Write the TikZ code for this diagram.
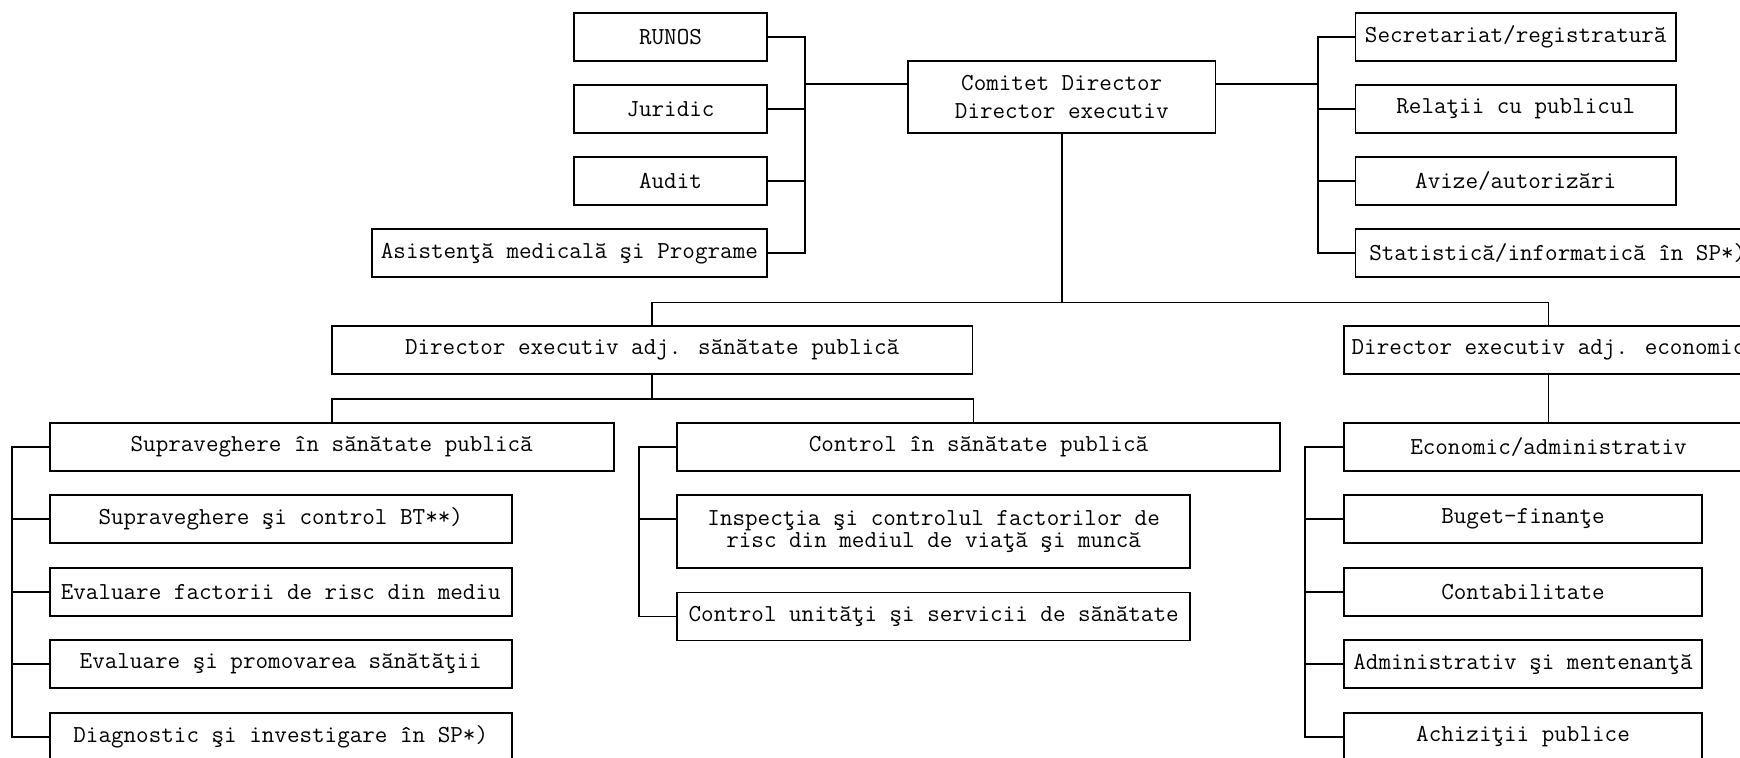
\documentclass[tikz,border=0pt]{standalone}
\usepackage{fontspec}
\usetikzlibrary{calc}

\begin{document}
\begin{tikzpicture} [x=0.5pt,y=-0.5pt,{dept/.style={rectangle,draw=black,line width=0.9pt,inner sep=0pt,minimum height=24pt,font=\ttfamily\fontsize{12.2}{13}\selectfont}},{link/.style={draw=black,line width=0.9pt}}]
	\useasboundingbox (0,0) rectangle (1740,758);
	\clip (0,0) rectangle (1740,758);
	%%top of chart
	\node [dept,minimum width=153.75pt,minimum height=36pt,align=center,font=\ttfamily\fontsize{12.2}{13.8}\selectfont] (comitet) at (1061.75,96.7) {Comitet Director\\Director executiv};
	%%staff on the left
	\node [dept,minimum width=96.5pt] (runos) at (670.5,37) {RUNOS};
	\node [dept,minimum width=96.5pt] (juridic) at (670.5,109.1) {Juridic};
	\node [dept,minimum width=96.5pt] (audit) at (670.5,181.2) {Audit};
	\node [dept,minimum width=197.6pt] (asist) at (569.4,253.3) {Asistenţă medicală şi Programe};
	%%staff on the right
	\node [dept,minimum width=160.25pt] (secret) at (1515.75,37) {Secretariat/registratură};
	\node [dept,minimum width=160.25pt] (relatii) at (1515.75,109.1) {Relaţii cu publicul};
	\node [dept,minimum width=160.25pt] (avize) at (1515.75,181.2) {Avize/autorizări};
	\node [dept,minimum width=202.25pt] (statist) at (1557.75,253.3) {Statistică/informatică în SP*)};
	%%deputy directors
	\node [dept,minimum width=320.35pt] (dirsp) at (652.15,350.2) {Director executiv adj. sănătate publică};
	\node [dept,minimum width=204.5pt] (direc) at (1548.5,350.2) {Director executiv adj. economic};
	%%public health branch
	\node [dept,minimum width=281.9pt] (sup) at (331.7,446.7) {Supraveghere în sănătate publică};
	\node [dept,minimum width=230.95pt] (supbt) at (280.75,519.2) {Supraveghere şi control BT**)};
	\node [dept,minimum width=230.95pt] (evalrisc) at (280.75,591.7) {Evaluare factorii de risc din mediu};
	\node [dept,minimum width=230.95pt] (evalprom) at (280.75,664.2) {Evaluare şi promovarea sănătăţii};
	\node [dept,minimum width=230.95pt] (diag) at (280.75,736.7) {Diagnostic şi investigare în SP*)};
	\node [dept,minimum width=301.5pt] (ctrl) at (978.5,446.7) {Control în sănătate publică};
	\node [dept,minimum width=256.65pt,minimum height=36.65pt,align=center,font=\ttfamily\fontsize{12.2}{11.2}\selectfont] (insp) at (933.65,531.7) {Inspecţia şi controlul factorilor de\\risc din mediul de viaţă şi muncă};
	\node [dept,minimum width=256.65pt] (ctrlu) at (933.65,616.5) {Control unităţi şi servicii de sănătate};
	%%economic branch
	\node [dept,minimum width=204.5pt] (econ) at (1548.5,446.7) {Economic/administrativ};
	\node [dept,minimum width=179pt] (buget) at (1523,519.2) {Buget-finanţe};
	\node [dept,minimum width=179pt] (contab) at (1523,591.7) {Contabilitate};
	\node [dept,minimum width=179pt] (admin) at (1523,664.2) {Administrativ şi mentenanţă};
	\node [dept,minimum width=179pt] (achiz) at (1523,736.7) {Achiziţii publice};
	%%bus lines
	\coordinate (lbus) at (805.3,37);
	\coordinate (rbus) at (1318.3,37);
	\coordinate (comin) at ($(comitet.north west)+(0,24)$);
	\coordinate (comout) at ($(comitet.north east)+(0,24)$);
	\coordinate (split) at (1061.75,302.5);
	\coordinate (split2) at ($(dirsp.south)+(0,24)$);
	\coordinate (sbus) at (12.2,446.7);
	\coordinate (cbus) at (639.3,446.7);
	\coordinate (inspin) at ($(insp.north west)+(0,25)$);
	\coordinate (ebus) at (1305,446.7);
	%%left staff links
	\draw [link] (runos.east) -- (runos.east -| lbus) -- (asist.east -| lbus) -- (asist.east);
	\draw [link] (juridic.east) -- (juridic.east -| lbus);
	\draw [link] (audit.east) -- (audit.east -| lbus);
	\draw [link] (comin -| lbus) -- (comin);
	%%right staff links
	\draw [link] (comout) -- (comout -| rbus);
	\draw [link] (secret.west) -- (secret.west -| rbus) -- (statist.west -| rbus) -- (statist.west);
	\draw [link] (relatii.west) -- (relatii.west -| rbus);
	\draw [link] (avize.west) -- (avize.west -| rbus);
	%%deputies
	\draw [link] (comitet.south) -- (split);
	\draw [link] (dirsp.north) |- (split) -| (direc.north);
	\draw [link] (dirsp.south) -- (split2);
	\draw [link] (sup.north) |- (split2) -| (dirsp.east |- ctrl.north);
	\draw [link] (direc.south) -- (econ.north);
	%%supraveghere column
	\draw [link] (sup.west) -- (sup.west -| sbus) -- (diag.west -| sbus) -- (diag.west);
	\draw [link] (supbt.west) -- (supbt.west -| sbus);
	\draw [link] (evalrisc.west) -- (evalrisc.west -| sbus);
	\draw [link] (evalprom.west) -- (evalprom.west -| sbus);
	%%control column
	\draw [link] (ctrl.west) -- (ctrl.west -| cbus) -- (ctrlu.west -| cbus) -- (ctrlu.west);
	\draw [link] (inspin -| cbus) -- (inspin);
	%%economic column
	\draw [link] (econ.west) -- (econ.west -| ebus) -- (achiz.west -| ebus) -- (achiz.west);
	\draw [link] (buget.west) -- (buget.west -| ebus);
	\draw [link] (contab.west) -- (contab.west -| ebus);
	\draw [link] (admin.west) -- (admin.west -| ebus);
\end{tikzpicture}
\end{document}
